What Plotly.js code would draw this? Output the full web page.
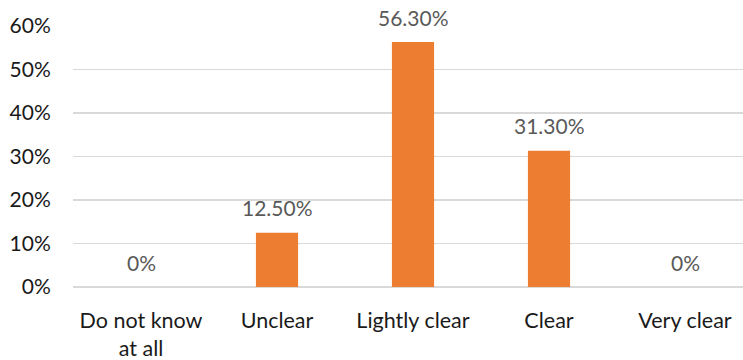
<!DOCTYPE html>
<html>
<head>
<meta charset="utf-8">
<script src="https://cdn.plot.ly/plotly-3.0.1.min.js"></script>
<style>
  html, body { margin: 0; padding: 0; background: #fff; }
  #chart { width: 743px; height: 360px; }
</style>
</head>
<body>
<div id="chart"></div>
<script>
// Survey answers: how clear the topic is to respondents (share, %)
const categories = ['Do not know<br>at all', 'Unclear', 'Lightly clear', 'Clear', 'Very clear'];
const shares = [0, 12.5, 56.3, 31.3, 0];
const yTickValues = [0, 10, 20, 30, 40, 50, 60];

const fmt = v => (v === 0 ? '0%' : v.toFixed(2) + '%');

const FONT = 'Lato, "Open Sans", sans-serif';
const plotW = 670;
const catPx = 136;

const trace = {
  type: 'bar',
  x: categories,
  y: shares,
  width: 0.31,
  marker: { color: '#ED7D31' },
  hoverinfo: 'none'
};

const labels = categories.map((c, i) => ({
  x: c,
  y: shares[i],
  xref: 'x',
  yref: 'y',
  text: fmt(shares[i]),
  showarrow: false,
  yanchor: 'middle',
  yshift: 25,
  font: { family: FONT, size: 21, color: '#595959' }
}));

const layout = {
  width: 743,
  height: 360,
  margin: { l: 73, r: 0, t: 26, b: 73 },
  paper_bgcolor: '#ffffff',
  plot_bgcolor: '#ffffff',
  showlegend: false,
  font: { family: FONT, size: 21, color: '#262626' },
  xaxis: {
    type: 'category',
    range: [-0.5, -0.5 + plotW / catPx],
    showgrid: false,
    showline: false,
    zeroline: false,
    ticks: 'outside',
    ticklen: 14,
    tickcolor: 'rgba(0,0,0,0)',
    tickfont: { family: FONT, size: 21.5, color: '#1a1a1a' }
  },
  yaxis: {
    range: [0, 60],
    tickvals: yTickValues,
    ticktext: yTickValues.map(v => v + '%'),
    showgrid: true,
    gridcolor: '#d9d9d9',
    gridwidth: 1.6,
    zeroline: true,
    zerolinecolor: '#d9d9d9',
    zerolinewidth: 1.6,
    showline: false,
    ticks: 'outside',
    ticklen: 17,
    tickcolor: 'rgba(0,0,0,0)',
    tickfont: { family: FONT, size: 21, color: '#1a1a1a' }
  },
  annotations: labels
};

Plotly.newPlot('chart', [trace], layout, { staticPlot: true, displayModeBar: false });
</script>
</body>
</html>
